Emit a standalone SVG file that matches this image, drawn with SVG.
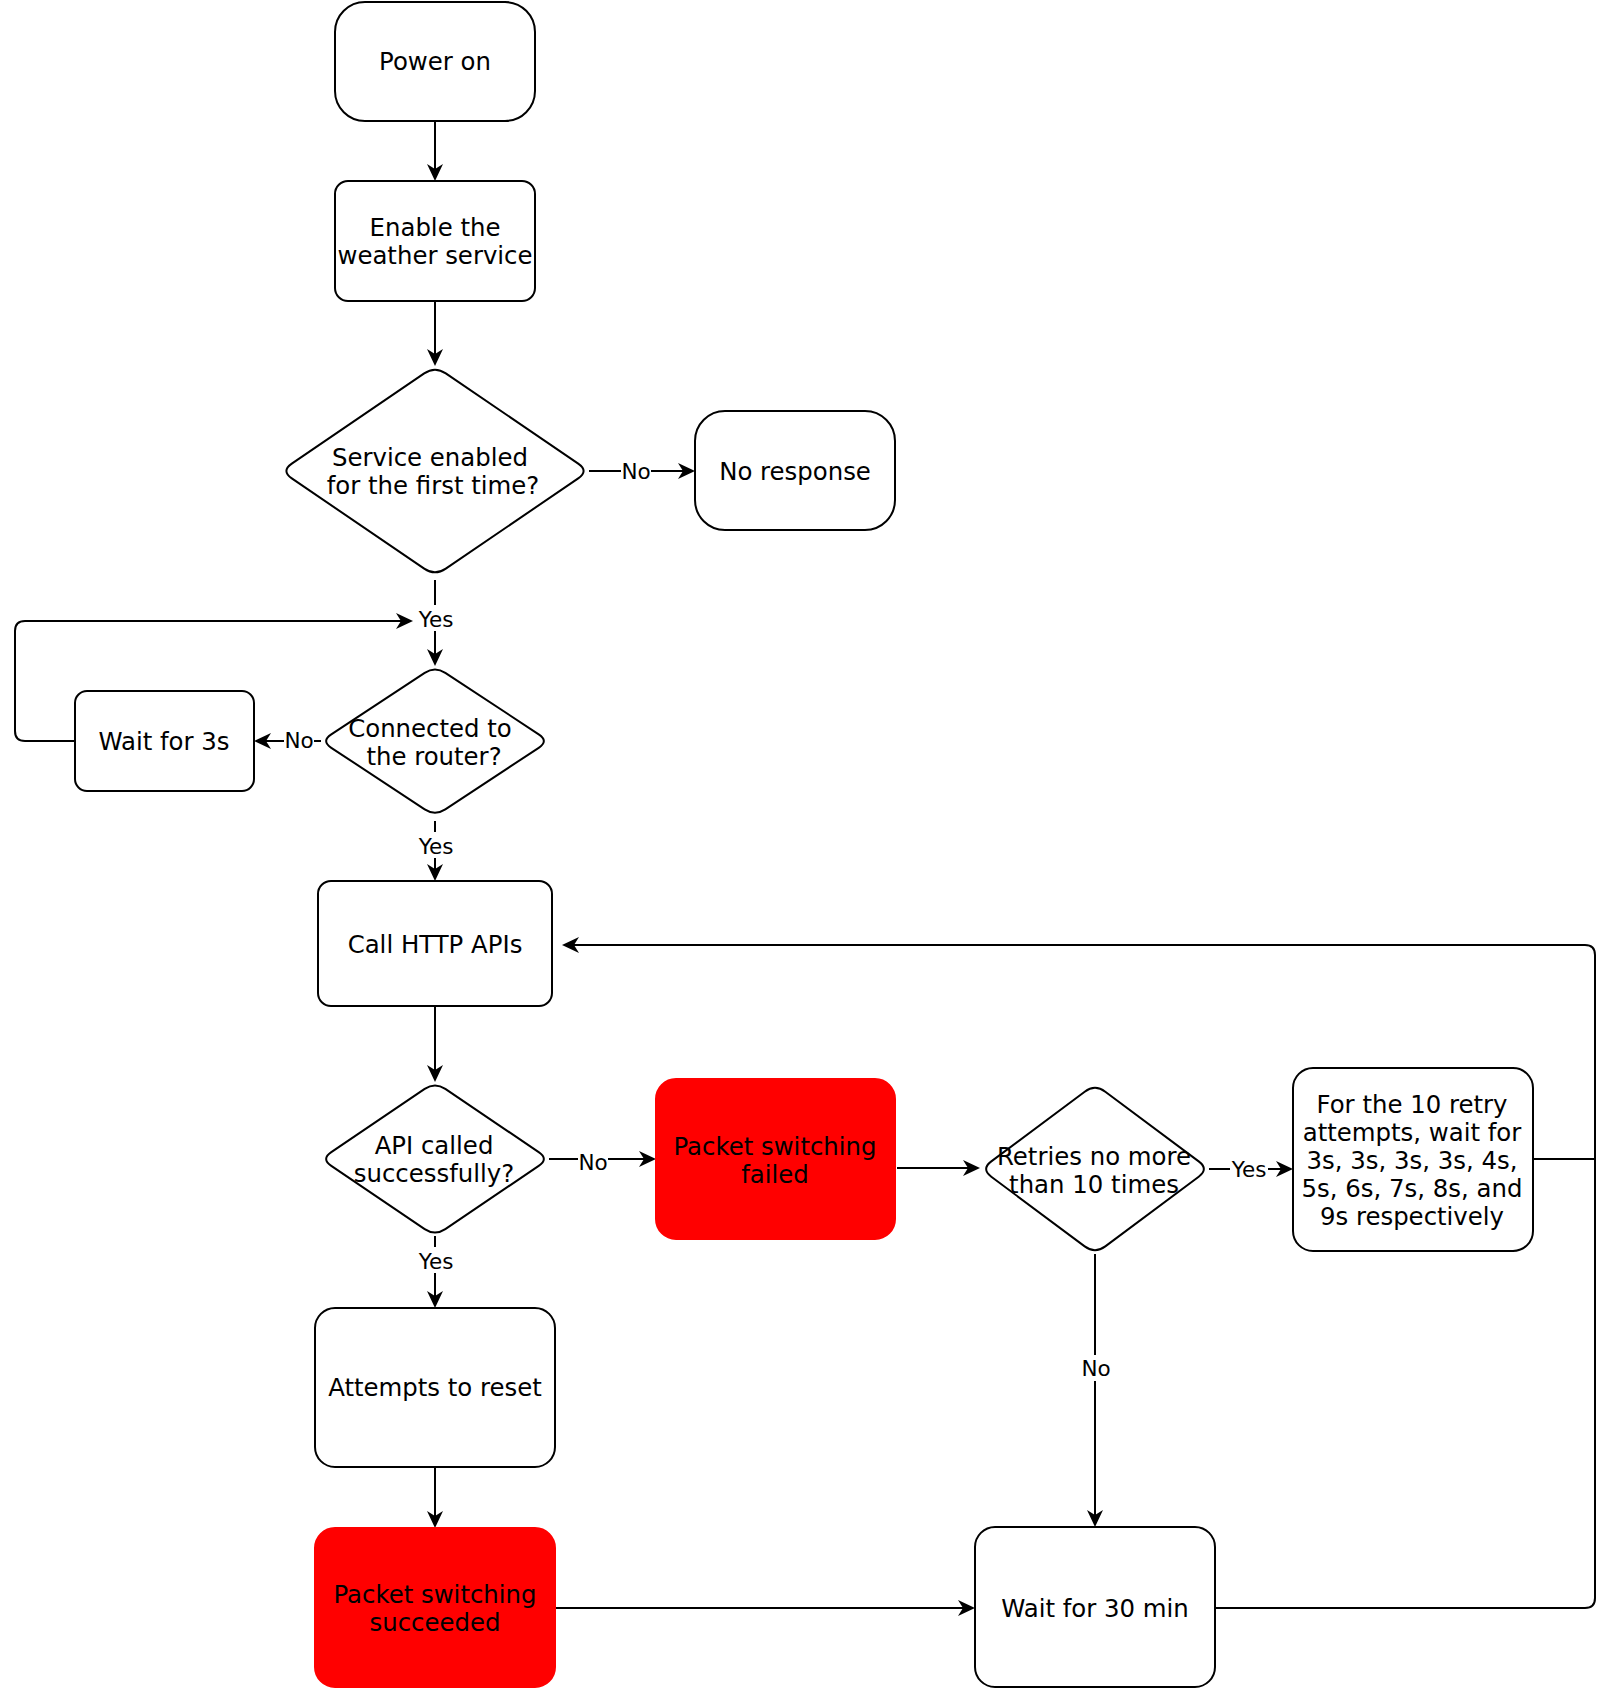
<svg xmlns="http://www.w3.org/2000/svg" width="1614" height="1690" viewBox="0 0 1614 1690">
<defs>
<style>
.box{fill:#fff;stroke:#000;stroke-width:2}
.red{fill:#ff0000;stroke:#ff0000;stroke-width:2}
.t{font-family:"DejaVu Sans",Verdana,sans-serif;font-size:24.4px;fill:#000;text-anchor:middle}
.lbl{font-family:"DejaVu Sans",Verdana,sans-serif;font-size:21.5px;fill:#000;text-anchor:middle}
.lbg{fill:#fff;stroke:none}
.e{fill:none;stroke:#000;stroke-width:2}
.ea{fill:none;stroke:#000;stroke-width:2;marker-end:url(#arr)}
</style>
<marker id="arr" markerUnits="userSpaceOnUse" markerWidth="19" markerHeight="18" viewBox="0 0 19 18" refX="11" refY="9" orient="auto">
<path d="M0,1 L17,9 L0,17 L5,9 Z" fill="#000"/>
</marker>
</defs>
<rect width="1614" height="1690" fill="#fff"/>

<g id="connectors">
<path class="ea" d="M435,121 V175"/>
<path class="ea" d="M435,301 V360"/>
<path class="ea" d="M589,471 H689"/>
<path class="ea" d="M435,580 V660"/>
<path class="ea" d="M321,741 H260"/>
<path class="ea" d="M75,741 H25 Q15,741 15,731 V631 Q15,621 25,621 H407"/>
<path class="ea" d="M435,821 V875"/>
<path class="ea" d="M435,1006 V1076"/>
<path class="ea" d="M549,1159 H650"/>
<path class="ea" d="M435,1236 V1302"/>
<path class="ea" d="M897,1168 H974"/>
<path class="ea" d="M1209,1169 H1287"/>
<path class="e" d="M1533,1159 H1595"/>
<path class="ea" d="M1215,1608 H1585 Q1595,1608 1595,1598 V955 Q1595,945 1585,945 H568"/>
<path class="ea" d="M1095,1254 V1521"/>
<path class="ea" d="M435,1467 V1522"/>
<path class="ea" d="M555,1608 H969"/>
<g id="edge-labels">
<rect class="lbg" x="621" y="459" width="30" height="24"/>
<text class="lbl" x="636" y="478.5">No</text>
<rect class="lbg" x="417" y="605" width="38" height="26"/>
<text class="lbl" x="436" y="626.5">Yes</text>
<rect class="lbg" x="284" y="729" width="30" height="24"/>
<text class="lbl" x="299" y="748">No</text>
<rect class="lbg" x="417" y="832" width="38" height="26"/>
<text class="lbl" x="436" y="853.5">Yes</text>
<rect class="lbg" x="578" y="1149" width="30" height="24"/>
<text class="lbl" x="593" y="1169.5">No</text>
<rect class="lbg" x="417" y="1247" width="38" height="26"/>
<text class="lbl" x="436" y="1268.5">Yes</text>
<rect class="lbg" x="1230" y="1156" width="38" height="26"/>
<text class="lbl" x="1249" y="1176.5">Yes</text>
<rect class="lbg" x="1081" y="1355" width="30" height="26"/>
<text class="lbl" x="1096" y="1375.5">No</text>
</g>
</g>

<g id="power-on">
<rect class="box" x="335" y="2" width="200" height="119" rx="30" ry="30"/>
<text class="t" x="435" y="69.5">Power on</text>
</g>
<g id="enable-service">
<rect class="box" x="335" y="181" width="200" height="120" rx="13" ry="13"/>
<text class="t" x="435" y="235.5">Enable the</text>
<text class="t" x="435" y="263.5">weather service</text>
</g>
<g id="first-time">
<path class="box" d="M445.8,373.4 L578.2,463.6 Q589,471 578.2,478.4 L445.8,568.6 Q435,576 424.2,568.6 L291.8,478.4 Q281,471 291.8,463.6 L424.2,373.4 Q435,366 445.8,373.4 Z"/>
<text class="t" x="430" y="465.5">Service enabled</text>
<text class="t" x="433" y="493.5">for the first time?</text>
</g>
<g id="no-response">
<rect class="box" x="695" y="411" width="200" height="119" rx="30" ry="30"/>
<text class="t" x="795" y="479.5">No response</text>
</g>
<g id="connected-router">
<path class="box" d="M445.3,672.8 L538.7,734.3 Q549,741 538.7,747.8 L445.3,809.3 Q435,816 424.7,809.3 L331.3,747.8 Q321,741 331.3,734.3 L424.7,672.8 Q435,666 445.3,672.8 Z"/>
<text class="t" x="430" y="736.5">Connected to</text>
<text class="t" x="434" y="764.5">the router?</text>
</g>
<g id="wait-3s">
<rect class="box" x="75" y="691" width="179" height="100" rx="12" ry="12"/>
<text class="t" x="164" y="749.5">Wait for 3s</text>
</g>
<g id="call-http">
<rect class="box" x="318" y="881" width="234" height="125" rx="13" ry="13"/>
<text class="t" x="435" y="952.5">Call HTTP APIs</text>
</g>
<g id="api-success">
<path class="box" d="M445.3,1088.9 L538.7,1152.1 Q549,1159 538.7,1165.9 L445.3,1229.1 Q435,1236 424.7,1229.1 L331.3,1165.9 Q321,1159 331.3,1152.1 L424.7,1088.9 Q435,1082 445.3,1088.9 Z"/>
<text class="t" x="434" y="1153.5">API called</text>
<text class="t" x="434" y="1181.5">successfully?</text>
</g>
<g id="switch-failed">
<rect class="red" x="656" y="1079" width="239" height="160" rx="20" ry="20"/>
<text class="t" x="775" y="1154.5">Packet switching</text>
<text class="t" x="775" y="1182.5">failed</text>
</g>
<g id="retries">
<path class="box" d="M1105.3,1091.7 L1198.7,1161.4 Q1209,1169 1198.7,1176.7 L1105.3,1246.4 Q1095,1254 1084.7,1246.4 L991.3,1176.7 Q981,1169 991.3,1161.4 L1084.7,1091.7 Q1095,1084 1105.3,1091.7 Z"/>
<text class="t" x="1094" y="1164.5">Retries no more</text>
<text class="t" x="1094" y="1192.5">than 10 times</text>
</g>
<g id="retry-wait">
<rect class="box" x="1293" y="1068" width="240" height="183" rx="20" ry="20"/>
<text class="t" x="1412" y="1112.5">For the 10 retry</text>
<text class="t" x="1412" y="1140.5">attempts, wait for</text>
<text class="t" x="1412" y="1168.5">3s, 3s, 3s, 3s, 4s,</text>
<text class="t" x="1412" y="1196.5">5s, 6s, 7s, 8s, and</text>
<text class="t" x="1412" y="1224.5">9s respectively</text>
</g>
<g id="attempts-reset">
<rect class="box" x="315" y="1308" width="240" height="159" rx="20" ry="20"/>
<text class="t" x="435" y="1396">Attempts to reset</text>
</g>
<g id="switch-succeeded">
<rect class="red" x="315" y="1528" width="240" height="159" rx="20" ry="20"/>
<text class="t" x="435" y="1602.5">Packet switching</text>
<text class="t" x="435" y="1630.5">succeeded</text>
</g>
<g id="wait-30min">
<rect class="box" x="975" y="1527" width="240" height="160" rx="20" ry="20"/>
<text class="t" x="1095" y="1616.5">Wait for 30 min</text>
</g>
</svg>
